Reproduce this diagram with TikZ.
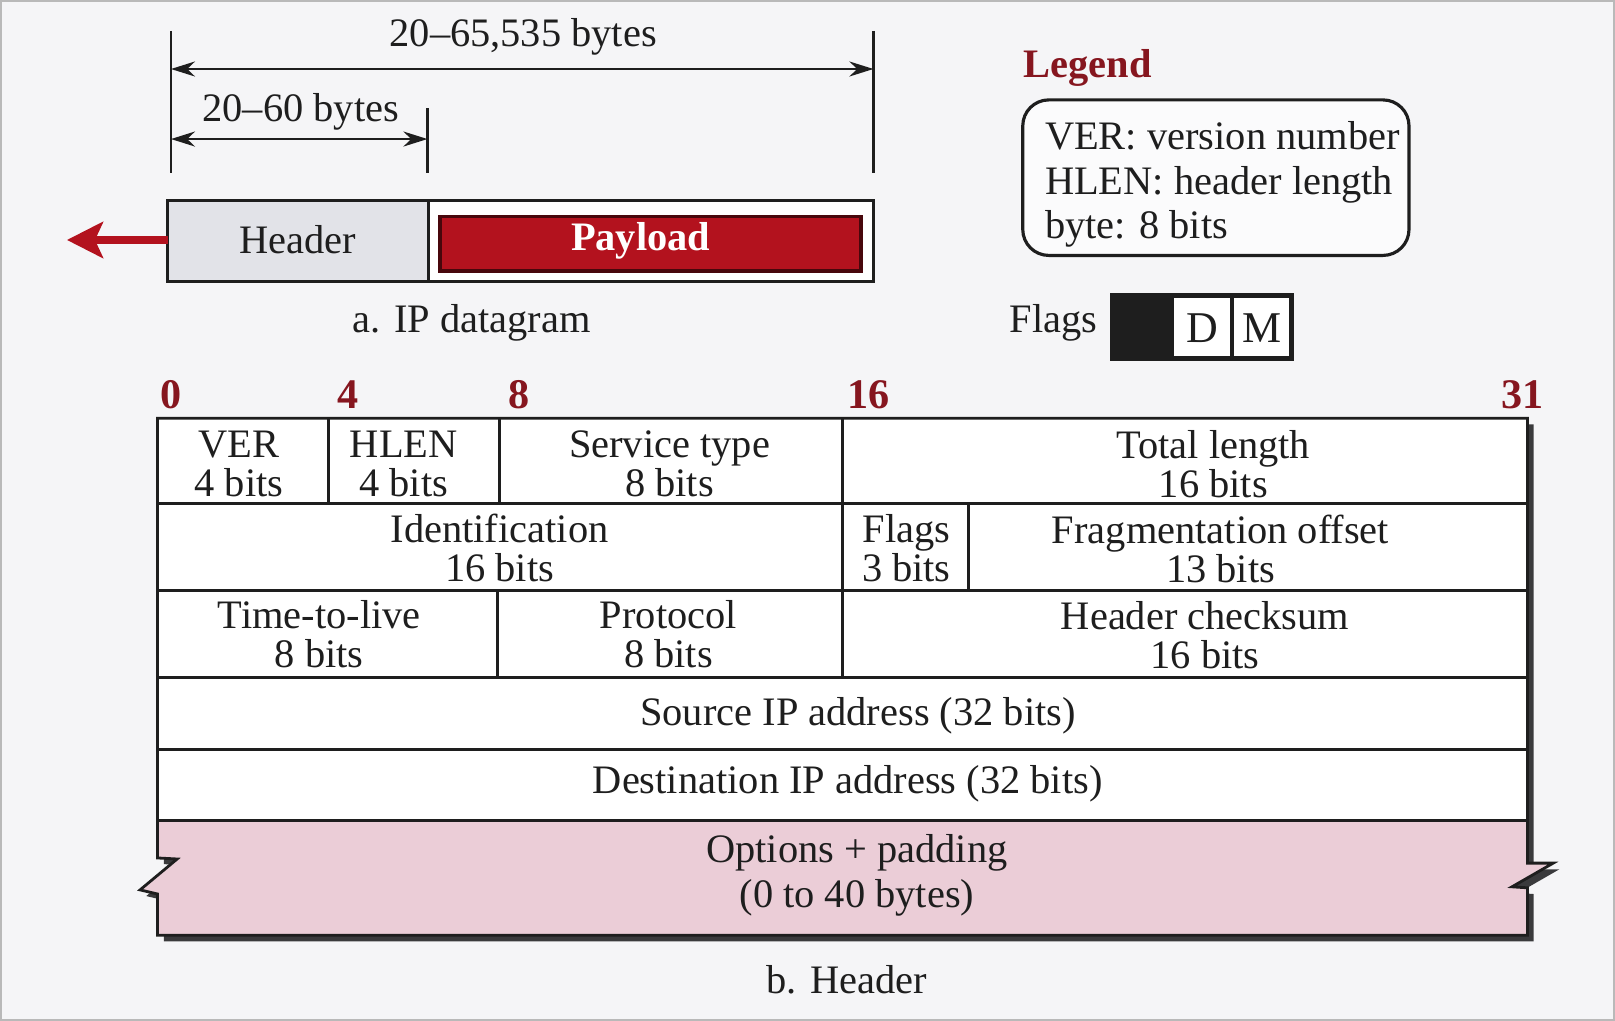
\documentclass[tikz,border=0pt]{standalone}
\usepackage{fontspec}
\setmainfont{Liberation Serif}
\usepackage{tikz}
\usetikzlibrary{arrows.meta,calc}
\definecolor{INK}{HTML}{1E1E1E}
\definecolor{WINE}{HTML}{86161F}
\definecolor{CRIMSON}{HTML}{B3121E}
\definecolor{ROSE}{HTML}{EBCDD7}
\definecolor{HDRGRAY}{HTML}{E2E3E8}
\definecolor{PAPER}{HTML}{F5F5F7}
\definecolor{SHADE}{HTML}{3A3A3C}
\begin{document}
\begin{tikzpicture}[x=0.0103cm,y=-0.0103cm]
\tikzset{txt/.style={font=\fontsize{11.5}{11.1}\selectfont,align=center,inner sep=0pt,text=INK},
 num/.style={font=\fontsize{12}{12}\selectfont\bfseries,text=WINE,inner sep=0pt},
 dim/.style={{Stealth[length=2.4mm,width=1.5mm]}-{Stealth[length=2.4mm,width=1.5mm]},line width=0.7pt,INK},
 rule/.style={line width=0.7pt,INK},
 cell/.style={line width=0.8pt,INK}}
\useasboundingbox (0,0) rectangle (1568,991);
\fill[PAPER] (0,0) rectangle (1568,991);
\draw[gray!55,line width=0.8pt] (0.5,0.5) rectangle (1567.5,990.5);
\coordinate (a0) at (166,67); \coordinate (a1) at (848,67);
\coordinate (b0) at (166,135); \coordinate (b1) at (415,135);
\draw[rule] (166,30)--(166,168); \draw[rule] (848,30)--(848,168); \draw[rule] (415,105)--(415,168);
\draw[dim] (a0)--(a1);
\draw[dim] (b0)--(b1);
\node[txt] (total) at (508,36) {20--65,535 bytes};
\node[txt] (hlen) at (292,109) {20--60 bytes};
\fill[white] (163,195) rectangle (848,273);
\fill[HDRGRAY] (163,195) rectangle (416,273);
\draw[cell] (163,195) rectangle (848,273); \draw[cell] (416,195)--(416,273);
\filldraw[fill=CRIMSON,draw=black!60!CRIMSON,line width=1pt] (427,210) rectangle (836,263);
\node[txt] (hdr) at (289,233) {Header};
\node[txt,font=\fontsize{11.5}{11.5}\selectfont\bfseries,text=white] (pay) at (622,234) {Payload};
\coordinate (dgw) at (163,233); \coordinate (out) at (65,233);
\draw[line width=2.4pt,CRIMSON,-{Stealth[length=3.6mm,width=3.6mm,inset=0.8mm]}] (dgw)--(out);
\node[txt] (capA) at (458,313) {a. IP datagram};
\node[num,font=\fontsize{11.5}{11.5}\selectfont\bfseries] (leg) at (1056,66) {Legend};
\draw[line width=0.9pt,INK,rounded corners=2.6mm,fill=white!60!PAPER] (993,97) rectangle (1368,248);
\node[txt,align=left,anchor=west,font=\fontsize{11.5}{12.7}\selectfont] (legtxt) at (1014,179) {VER: version number\\HLEN: header length\\byte: 8 bits};
\node[txt] (flg) at (1023,313) {Flags};
\fill[white] (1138,287) rectangle (1254,348);
\fill[INK] (1080,287) rectangle (1138,348);
\draw[line width=1.2pt,INK] (1080,287) rectangle (1254,348);
\draw[line width=1.2pt,INK] (1138,287)--(1138,348); \draw[line width=1.2pt,INK] (1196,287)--(1196,348);
\node[txt,font=\fontsize{12.5}{12.5}\selectfont] (fD) at (1167,319) {D};
\node[txt,font=\fontsize{12.5}{12.5}\selectfont] (fM) at (1225,319) {M};
\node[num] (n0) at (166,383) {0};
\node[num] (n4) at (338,383) {4};
\node[num] (n8) at (504,383) {8};
\node[num] (n16) at (843,383) {16};
\node[num] (n31) at (1478,383) {31};
\fill[SHADE,shift={(6,6)}] (153,406) -- (1483,406) -- (1483,838) -- (1508,838) -- (1468,861) -- (1483,862) -- (1483,908) -- (153,908) -- (153,868) -- (136,864) -- (172,834) -- (153,833) -- cycle;
\fill[white] (153,406) -- (1483,406) -- (1483,838) -- (1508,838) -- (1468,861) -- (1483,862) -- (1483,908) -- (153,908) -- (153,868) -- (136,864) -- (172,834) -- (153,833) -- cycle;
\fill[ROSE] (153,797) -- (1483,797) -- (1483,838) -- (1508,838) -- (1468,861) -- (1483,862) -- (1483,908) -- (153,908) -- (153,868) -- (136,864) -- (172,834) -- (153,833) -- cycle;
\draw[cell,line join=miter] (153,406) -- (1483,406) -- (1483,838) -- (1508,838) -- (1468,861) -- (1483,862) -- (1483,908) -- (153,908) -- (153,868) -- (136,864) -- (172,834) -- (153,833) -- cycle;
\draw[cell] (153,489)--(1483,489); \draw[cell] (153,573)--(1483,573); \draw[cell] (153,658)--(1483,658);
\draw[cell] (153,728)--(1483,728); \draw[cell] (153,797)--(1483,797);
\draw[cell] (319,406)--(319,489); \draw[cell] (485,406)--(485,489); \draw[cell] (818,406)--(818,489);
\draw[cell] (818,489)--(818,573); \draw[cell] (940,489)--(940,573);
\draw[cell] (483,573)--(483,658); \draw[cell] (818,573)--(818,658);
\node[txt] (ver) at (232,450) {VER\\4 bits};
\node[txt] (hl) at (392,450) {HLEN\\4 bits};
\node[txt] (tos) at (650,450) {Service type\\8 bits};
\node[txt] (tlen) at (1178,451) {Total length\\16 bits};
\node[txt] (ident) at (485,532) {Identification\\16 bits};
\node[txt] (flags) at (880,532) {Flags\\3 bits};
\node[txt] (frag) at (1185,533) {Fragmentation offset\\13 bits};
\node[txt] (ttl) at (310,616) {Time-to-live\\8 bits};
\node[txt] (proto) at (649,616) {Protocol\\8 bits};
\node[txt] (csum) at (1170,617) {Header checksum\\16 bits};
\node[txt] (src) at (833,695) {Source IP address (32 bits)};
\node[txt] (dst) at (823,761) {Destination IP address (32 bits)};
\node[txt,font=\fontsize{11.5}{12.9}\selectfont] (opt) at (832,850) {Options + padding\\(0 to 40 bytes)};
\node[txt] (capB) at (822,951) {b. Header};
\end{tikzpicture}
\end{document}
